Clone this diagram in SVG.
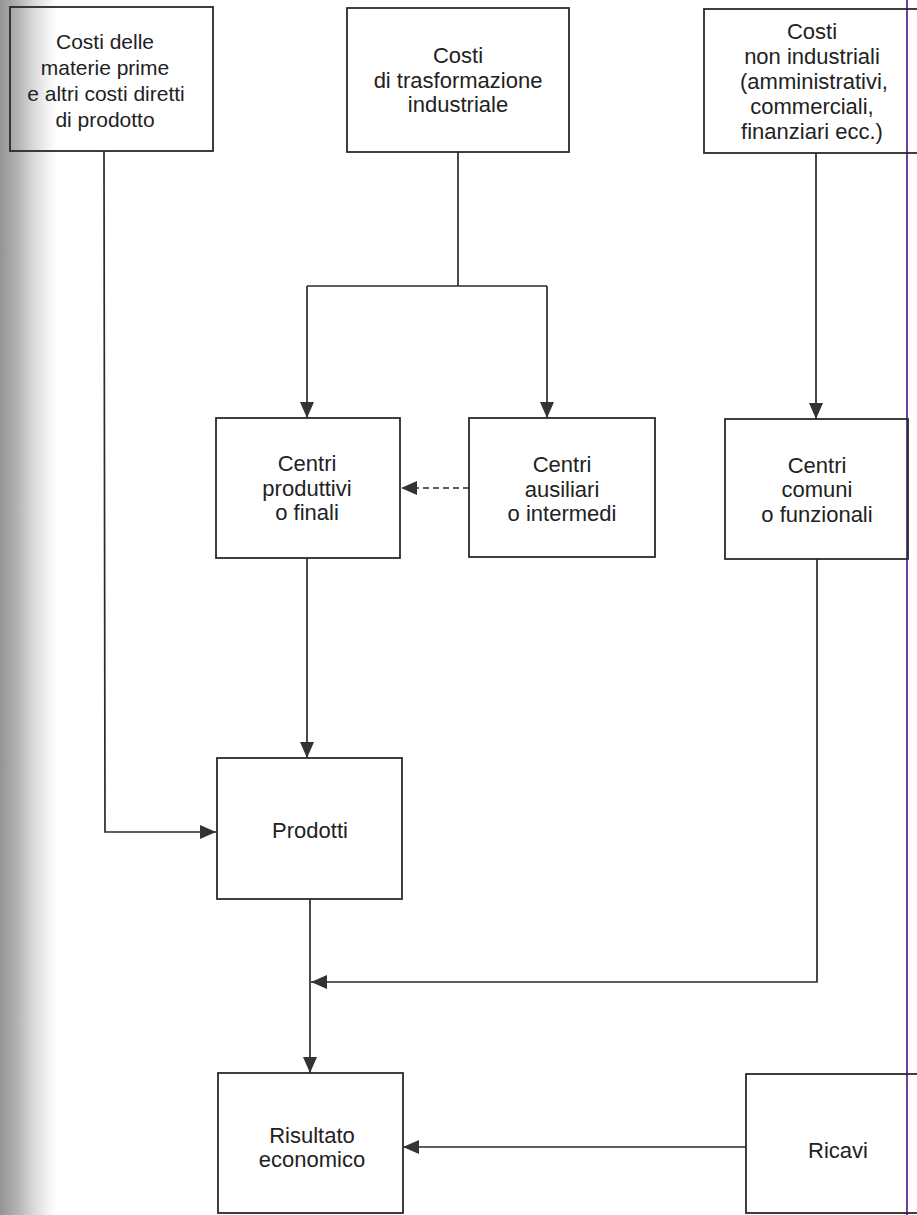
<svg xmlns="http://www.w3.org/2000/svg" width="917" height="1215" viewBox="0 0 917 1215">
  <defs>
    <linearGradient id="edgeShade" x1="0" y1="0" x2="1" y2="0">
      <stop offset="0" stop-color="#949494"/>
      <stop offset="0.3" stop-color="#b3b3b3"/>
      <stop offset="0.6" stop-color="#dcdcdc"/>
      <stop offset="0.85" stop-color="#f5f5f5"/>
      <stop offset="1" stop-color="#ffffff"/>
    </linearGradient>
    <marker id="arrow" markerUnits="userSpaceOnUse" markerWidth="17" markerHeight="14" refX="16" refY="7" orient="auto">
      <path d="M0,0 L16,7 L0,14 Z" fill="#333"/>
    </marker>
  </defs>
  <style>
    .box { fill: none; stroke: #2a2a2a; stroke-width: 1.8; }
    .lbl { font-family: "Liberation Sans", Arial, sans-serif; font-size: 22px; fill: #222; text-anchor: middle; }
    .small { font-size: 21px; }
    .wire { fill: none; stroke: #2a2a2a; stroke-width: 1.7; }
    .dash { stroke-dasharray: 6 4; }
  </style>

  <rect width="917" height="1215" fill="#ffffff"/>
  <!-- binding shadow along the left margin -->
  <rect x="0" y="0" width="58" height="1215" fill="url(#edgeShade)"/>
  <!-- margin rule on the right -->
  <line x1="907" y1="0" x2="907" y2="1215" stroke="#6b3fa0" stroke-width="2"/>

  <g id="connectors">
    <polyline class="wire" points="104,151 105,832 216,832" marker-end="url(#arrow)"/>
    <polyline class="wire" points="458,152 458,286"/>
    <polyline class="wire" points="307,286 547,286"/>
    <polyline class="wire" points="307,286 307,418" marker-end="url(#arrow)"/>
    <polyline class="wire" points="547,286 547,418" marker-end="url(#arrow)"/>
    <polyline class="wire" points="816,153 816,419" marker-end="url(#arrow)"/>
    <polyline class="wire dash" points="469,488 401,488" marker-end="url(#arrow)"/>
    <polyline class="wire" points="307,558 307,758" marker-end="url(#arrow)"/>
    <polyline class="wire" points="310,899 310,1073" marker-end="url(#arrow)"/>
    <polyline class="wire" points="817,559 817,982 311,982" marker-end="url(#arrow)"/>
    <polyline class="wire" points="746,1147 403,1147" marker-end="url(#arrow)"/>
  </g>

  <g id="costi-materie">
    <rect class="box" x="10" y="7" width="203" height="144"/>
    <text class="lbl small" x="105" y="49">Costi delle</text>
    <text class="lbl small" x="105" y="75">materie prime</text>
    <text class="lbl small" x="106" y="101">e altri costi diretti</text>
    <text class="lbl small" x="105" y="127">di prodotto</text>
  </g>

  <g id="costi-trasformazione">
    <rect class="box" x="347" y="8" width="222" height="144"/>
    <text class="lbl" x="458" y="63">Costi</text>
    <text class="lbl" x="458" y="88">di trasformazione</text>
    <text class="lbl" x="458" y="112">industriale</text>
  </g>

  <g id="costi-non-industriali">
    <rect class="box" x="704" y="9" width="230" height="144"/>
    <text class="lbl" x="812" y="39">Costi</text>
    <text class="lbl" x="812" y="64">non industriali</text>
    <text class="lbl" x="814" y="89">(amministrativi,</text>
    <text class="lbl" x="812" y="114">commerciali,</text>
    <text class="lbl" x="812" y="139">finanziari ecc.)</text>
  </g>

  <g id="centri-produttivi">
    <rect class="box" x="216" y="418" width="184" height="140"/>
    <text class="lbl" x="307" y="471">Centri</text>
    <text class="lbl" x="307" y="496">produttivi</text>
    <text class="lbl" x="307" y="520">o finali</text>
  </g>

  <g id="centri-ausiliari">
    <rect class="box" x="469" y="418" width="186" height="139"/>
    <text class="lbl" x="562" y="472">Centri</text>
    <text class="lbl" x="562" y="497">ausiliari</text>
    <text class="lbl" x="562" y="521">o intermedi</text>
  </g>

  <g id="centri-comuni">
    <rect class="box" x="725" y="419" width="183" height="140"/>
    <text class="lbl" x="817" y="473">Centri</text>
    <text class="lbl" x="817" y="497">comuni</text>
    <text class="lbl" x="817" y="522">o funzionali</text>
  </g>

  <g id="prodotti">
    <rect class="box" x="217" y="758" width="185" height="141"/>
    <text class="lbl" x="310" y="838">Prodotti</text>
  </g>

  <g id="risultato-economico">
    <rect class="box" x="218" y="1073" width="185" height="140"/>
    <text class="lbl" x="312" y="1143">Risultato</text>
    <text class="lbl" x="312" y="1167">economico</text>
  </g>

  <g id="ricavi">
    <rect class="box" x="746" y="1074" width="200" height="139"/>
    <text class="lbl" x="838" y="1158">Ricavi</text>
  </g>
</svg>
